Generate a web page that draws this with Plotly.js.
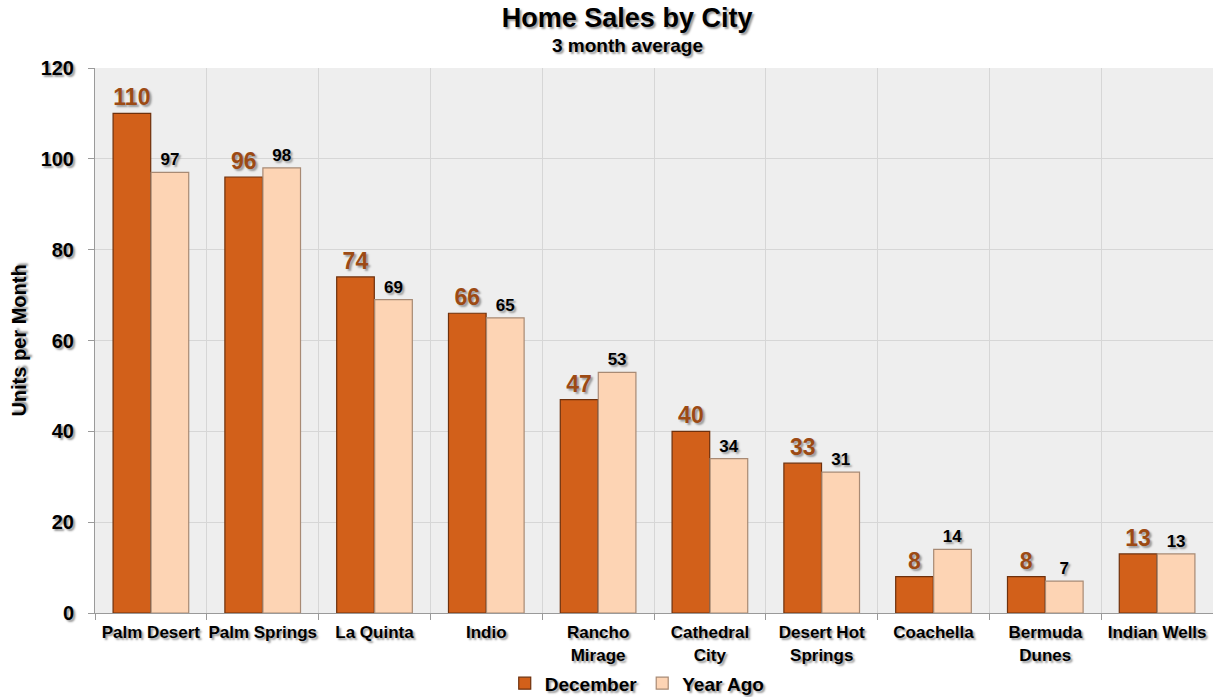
<!DOCTYPE html>
<html>
<head>
<meta charset="utf-8">
<script src="https://cdn.plot.ly/plotly-3.0.1.min.js"></script>
<style>
  html, body { margin: 0; padding: 0; background: #fff; }
  #chart { width: 1213px; height: 697px; }
</style>
</head>
<body>
<div id="chart"></div>
<script>
// city names as shown on the axis
const cities = ['Palm Desert', 'Palm Springs', 'La Quinta', 'Indio', 'Rancho<br>Mirage',
  'Cathedral<br>City', 'Desert Hot<br>Springs', 'Coachella', 'Bermuda<br>Dunes', 'Indian Wells'];
const december = [110, 96, 74, 66, 47, 40, 33, 8, 8, 13];
const yearAgo = [97, 98, 69, 65, 53, 34, 31, 14, 7, 13];
const yTicks = [0, 20, 40, 60, 80, 100, 120];

const font = 'Liberation Sans, Arial, sans-serif';
const shadow = '2px 2px 2px #9a9a9a';

const data = [{
  type: 'bar',
  name: 'December',
  x: cities,
  y: december,
  text: december.map(String),
  textposition: 'outside',
  cliponaxis: false,
  textfont: { family: font, size: 23, color: '#9c4a14', weight: 'bold', shadow: shadow },
  marker: { color: '#d2601a', line: { color: '#6e300c', width: 1.2 } },
  hoverinfo: 'skip',
}, {
  type: 'bar',
  name: 'Year Ago',
  x: cities,
  y: yearAgo,
  text: yearAgo.map(String),
  textposition: 'outside',
  cliponaxis: false,
  textfont: { family: font, size: 17, color: '#000', weight: 'bold', shadow: shadow },
  marker: { color: '#fdd4b4', line: { color: '#a88a74', width: 1.2 } },
  hoverinfo: 'skip',
}];

const layout = {
  width: 1213,
  height: 697,
  margin: { l: 95, r: 0, t: 68, b: 84, pad: 0, autoexpand: false },
  paper_bgcolor: '#ffffff',
  plot_bgcolor: '#eeeeee',
  font: { family: font, color: '#000' },
  title: {
    text: 'Home Sales by City',
    font: { family: font, size: 27, weight: 'bold', shadow: shadow },
    x: 0.517,
    xanchor: 'center',
    y: 0.975,
    yanchor: 'middle',
  },
  annotations: [{
    text: '3 month average',
    xref: 'paper', yref: 'paper',
    x: 0.476, y: 1, yshift: 23,
    xanchor: 'center', yanchor: 'middle',
    showarrow: false,
    font: { family: font, size: 19, weight: 'bold', shadow: shadow },
  }],
  barmode: 'group',
  bargap: 0.32,
  bargroupgap: 0.01,
  showlegend: true,
  legend: {
    orientation: 'h',
    x: 0.485,
    xanchor: 'center',
    y: -0.129,
    yanchor: 'middle',
    bgcolor: 'rgba(0,0,0,0)',
    font: { family: font, size: 19, weight: 'bold', shadow: shadow },
    itemwidth: 30,
  },
  xaxis: {
    type: 'category',
    tickson: 'boundaries',
    tickangle: 0,
    showgrid: true,
    gridcolor: '#d6d6d6',
    showline: true,
    linecolor: '#9a9a9a',
    ticks: 'outside',
    ticklen: 6,
    tickcolor: '#9a9a9a',
    ticklabelstandoff: 4,
    tickfont: { family: font, size: 17, weight: 'bold', shadow: shadow },
    range: [-0.5, 9.5],
  },
  yaxis: {
    range: [0, 120],
    tickvals: yTicks,
    showgrid: true,
    gridcolor: '#d6d6d6',
    zeroline: false,
    showline: true,
    linecolor: '#9a9a9a',
    ticks: 'outside',
    ticklen: 6,
    tickcolor: '#9a9a9a',
    ticklabelstandoff: 10,
    tickfont: { family: font, size: 20, weight: 'bold', shadow: shadow },
    title: {
      text: 'Units per Month',
      font: { family: font, size: 20, weight: 'bold', shadow: shadow },
      standoff: 8,
    },
  },
};

Plotly.newPlot('chart', data, layout, { staticPlot: true });
</script>
</body>
</html>
